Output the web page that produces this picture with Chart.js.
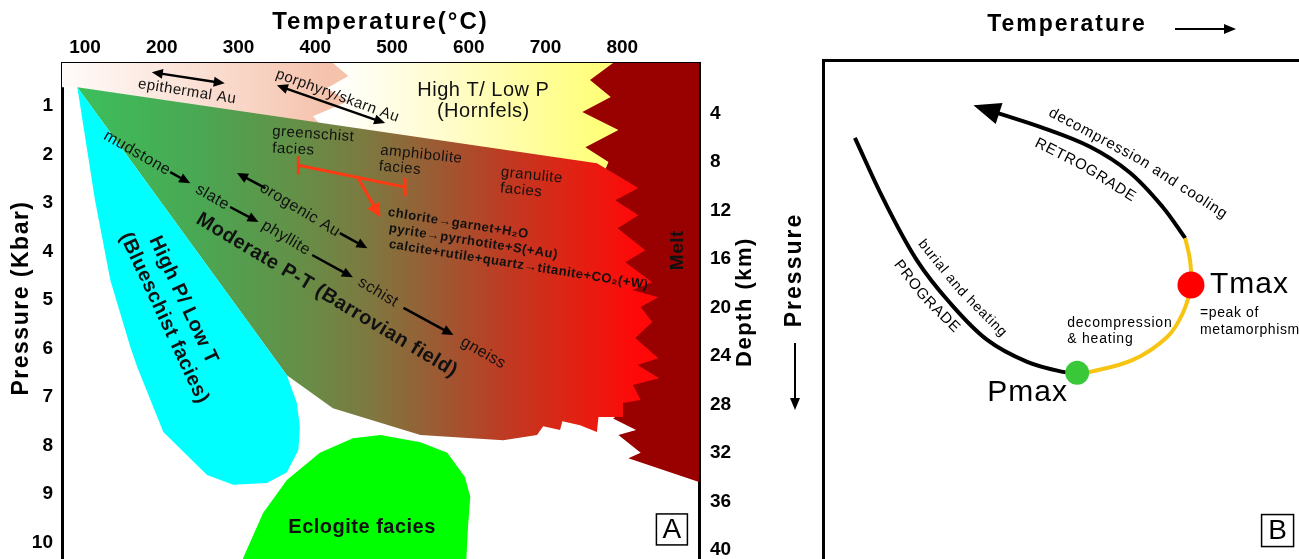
<!DOCTYPE html>
<html>
<head>
<meta charset="utf-8">
<script src="https://cdn.jsdelivr.net/npm/chart.js@4.4.1/dist/chart.umd.min.js"></script>
<style>
  html, body { margin: 0; padding: 0; background: #fff; overflow: hidden; }
  canvas { position: absolute; top: 0; }
  #chartA { left: 0; }
  #chartB { left: 770px; }
</style>
</head>
<body>
<canvas id="chartA" width="770" height="559"></canvas>
<canvas id="chartB" width="529" height="559"></canvas>
<script>
// ---- panel A: P-T fields, [temperature °C, pressure kbar] ----
const tempTicks = [100, 200, 300, 400, 500, 600, 700, 800]
const pressureTicks = [1, 2, 3, 4, 5, 6, 7, 8, 9, 10]
const depthTicks = [4, 8, 12, 16, 20, 24, 28, 32, 36, 40]

const meltField = [[719,0.11],[900,0.11],[900,8.75],[808,8.26],[824,8.15],[795,7.78],[818,7.68],[788,7.44],[801,7.30],[771,5.0],[732,2.22],[719,0.11]]
const hornfelsField = [[380,0.11],[788,0.11],[758,0.46],[785,0.81],[748,1.12],[795,1.49],[752,1.85],[782,2.15],[772,2.53],[485,1.91],[380,1.70],[380,0.11]]
const shallowField = [[70,0.11],[423,0.11],[443,0.38],[415,0.63],[443,0.90],[397,1.21],[419,1.60],[90,0.61],[70,0.61],[70,0.11]]
const barrovianField = [[90,0.61],[767,2.18],[821,2.69],[791,2.94],[821,3.25],[794,3.52],[830,3.97],[804,4.22],[839,4.63],[813,4.79],[847,4.94],[824,5.14],[839,5.45],[817,5.78],[847,6.20],[820,6.34],[848,6.61],[814,6.75],[824,7.06],[801,7.12],[801,7.41],[769,7.41],[767,7.72],[745,7.58],[722,7.50],[719,7.68],[697,7.60],[689,7.78],[645,7.89],[537,7.78],[423,7.23],[363,6.55],[90,0.61]]
const blueschistField = [[90,0.61],[363,6.55],[376,7.12],[380,7.62],[378,8.09],[363,8.55],[337,8.77],[293,8.81],[259,8.61],[202,7.72],[168,6.38],[159,5.97],[133,4.59],[113,2.94],[90,0.61]]
const eclogiteField = [[300,10.6],[306,10.32],[332,9.39],[363,8.71],[406,8.15],[449,7.85],[485,7.78],[537,7.93],[572,8.15],[595,8.65],[602,9.06],[599,9.68],[597,10.32],[596,10.6],[300,10.6]]

// ---- panel B: schematic P-T path, [temperature, pressure] in arbitrary units ----
const progradePath = [[6.7,15.6],[12.8,28.1],[19.7,40.1],[26.7,48.7],[34.5,56.1],[42.9,60.5],[50.4,62.5],[53.4,62.7]]
const heatingPath = [[53.4,62.7],[56.1,62.5],[65.1,60.1],[72.3,55.5],[75.6,50.7],[77.3,45.1],[77.1,40.1],[76.1,35.7]]
const retrogradePath = [[76.1,35.7],[71.4,29.5],[64.5,22.6],[56.1,17.4],[45.6,13.4],[36.6,10.6]]
const peakPoints = [[53.4,62.7],[77.3,45.1]] // Pmax, Tmax

const FONT = 'Arial, "Liberation Sans", Helvetica, sans-serif'
const depthOf = p => 4 * p - 0.6 // depth scale

const xy = pairs => pairs.map(([x, y]) => ({ x, y }))

// horizontal gradient given in temperature units
function tempGradient(stops) {
  return ctx => {
    const chart = ctx.chart
    if (!chart.chartArea) return 'rgba(0,0,0,0)'
    const xs = chart.scales.x
    const t0 = stops[0][0], t1 = stops[stops.length - 1][0]
    const g = chart.ctx.createLinearGradient(xs.getPixelForValue(t0), 0, xs.getPixelForValue(t1), 0)
    stops.forEach(([t, c]) => g.addColorStop((t - t0) / (t1 - t0), c))
    return g
  }
}

function field(label, pts, color, order) {
  return {
    label, data: xy(pts), showLine: true, fill: 'shape', backgroundColor: color,
    borderColor: 'rgba(0,0,0,0)', borderWidth: 0, pointRadius: 0, tension: 0, order
  }
}

function head(ctx, x, y, a, len, half) {
  const c = Math.cos(a), s = Math.sin(a)
  ctx.beginPath()
  ctx.moveTo(x, y)
  ctx.lineTo(x - len * c + half * s, y - len * s - half * c)
  ctx.lineTo(x - len * c - half * s, y - len * s + half * c)
  ctx.closePath()
  ctx.fill()
}

function arrow(ctx, x1, y1, x2, y2, both, color, width, len, half) {
  const a = Math.atan2(y2 - y1, x2 - x1), c = Math.cos(a), s = Math.sin(a)
  ctx.strokeStyle = color
  ctx.fillStyle = color
  ctx.lineWidth = width
  ctx.beginPath()
  ctx.moveTo(both ? x1 + c * len * 0.7 : x1, both ? y1 + s * len * 0.7 : y1)
  ctx.lineTo(x2 - c * len * 0.7, y2 - s * len * 0.7)
  ctx.stroke()
  head(ctx, x2, y2, a, len, half)
  if (both) head(ctx, x1, y1, a + Math.PI, len, half)
}

function label(ctx, text, x, y, rot, font, align, spacing, color) {
  ctx.save()
  ctx.translate(x, y)
  ctx.rotate(rot * Math.PI / 180)
  ctx.font = font
  ctx.letterSpacing = (spacing || 0) + 'px'
  ctx.textAlign = align || 'center'
  ctx.textBaseline = 'middle'
  ctx.fillStyle = color || '#111'
  ctx.fillText(text, 0, 0)
  ctx.restore()
}

function textOnPath(ctx, text, pts, font, spacing) {
  ctx.save()
  ctx.font = font
  ctx.letterSpacing = '0px'
  ctx.fillStyle = '#000'
  ctx.textAlign = 'center'
  ctx.textBaseline = 'middle'
  const segs = []
  let total = 0
  for (let i = 1; i < pts.length; i++) {
    const l = Math.hypot(pts[i][0] - pts[i - 1][0], pts[i][1] - pts[i - 1][1])
    segs.push(l)
    total += l
  }
  const chars = [...text]
  const widths = chars.map(c => ctx.measureText(c).width)
  const len = widths.reduce((a, b) => a + b, 0) + spacing * (chars.length - 1)
  let d = (total - len) / 2
  chars.forEach((ch, k) => {
    const mid = d + widths[k] / 2
    let s = 0, acc = 0
    while (s < segs.length - 1 && acc + segs[s] < mid) { acc += segs[s]; s++ }
    const f = (mid - acc) / segs[s]
    const [x0, y0] = pts[s], [x1, y1] = pts[s + 1]
    ctx.save()
    ctx.translate(x0 + (x1 - x0) * f, y0 + (y1 - y0) * f)
    ctx.rotate(Math.atan2(y1 - y0, x1 - x0))
    ctx.fillText(ch, 0, 0)
    ctx.restore()
    d += widths[k] + spacing
  })
  ctx.restore()
}

// annotations of panel A, in temperature / pressure units
const arrowsA = [
  [187, 0.30, 282, 0.53, true],
  [350, 0.57, 491, 1.35, true],
  [211, 2.36, 237, 2.59, false],
  [289, 3.08, 326, 3.39, false],
  [396, 4.07, 449, 4.53, false],
  [515, 5.16, 580, 5.72, false],
  [335, 2.69, 298, 2.38, false],
  [432, 3.62, 468, 3.93, false]
]
const notesA = [
  ['epithermal Au', 233, 0.70, 9, '15px', 'center'],
  ['porphyry/skarn Au', 429, 0.79, 20, '15px', 'center'],
  ['High T/ Low P', 619, 0.67, 0, '20px', 'center'],
  ['(Hornfels)', 619, 1.12, 0, '20px', 'center'],
  ['greenschist', 344, 1.52, 4, '15px', 'left'],
  ['facies', 344, 1.87, 3, '15px', 'left'],
  ['amphibolite', 485, 1.91, 6, '15px', 'left'],
  ['facies', 483, 2.24, 5, '15px', 'left'],
  ['granulite', 642, 2.36, 6, '15px', 'left'],
  ['facies', 641, 2.69, 6, '15px', 'left'],
  ['mudstone', 168, 1.97, 30, '16px', 'center'],
  ['slate', 266, 2.88, 30, '16px', 'center'],
  ['phyllite', 362, 3.72, 31, '16px', 'center'],
  ['schist', 482, 4.84, 31, '16px', 'center'],
  ['gneiss', 619, 6.09, 30, '16px', 'center'],
  ['orogenic Au', 380, 3.14, 31, '16px', 'center'],
  ['Moderate P-T (Barrovian field)', 415, 4.90, 31, 'bold 20px', 'center'],
  ['High P/ Low T', 228, 5.0, 65, 'bold 20px', 'center'],
  ['(Blueschist facies)', 203, 5.37, 65, 'bold 20px', 'center'],
  ['Eclogite facies', 461, 9.68, 0, 'bold 20px', 'center'],
  ['chlorite\u2192garnet+H\u2082O', 495, 3.19, 9, 'bold 13px', 'left'],
  ['pyrite\u2192pyrrhotite+S(+Au)', 496, 3.52, 9, 'bold 13px', 'left'],
  ['calcite+rutile+quartz\u2192titanite+CO\u2082(+W)', 496, 3.85, 9, 'bold 13px', 'left'],
  ['Melt', 872, 3.97, -90, 'bold 19px', 'center']
]

const panelA = {
  id: 'panelA',
  afterDatasetsDraw(chart) {
    const { ctx, scales: { x, y } } = chart
    const X = t => x.getPixelForValue(t), Y = p => y.getPixelForValue(p)
    ctx.save()
    arrowsA.forEach(([t1, p1, t2, p2, both]) => arrow(ctx, X(t1), Y(p1), X(t2), Y(p2), both, '#000', 2.5, 11, 5))

    // red bar between greenschist and amphibolite facies
    const red = '#ff3a12'
    ctx.strokeStyle = red
    ctx.fillStyle = red
    ctx.lineWidth = 3
    ctx.beginPath()
    ctx.moveTo(X(378), Y(2.22)); ctx.lineTo(X(517), Y(2.67))
    ctx.moveTo(X(378), Y(2.03)); ctx.lineTo(X(378), Y(2.41))
    ctx.moveTo(X(517), Y(2.48)); ctx.lineTo(X(517), Y(2.86))
    ctx.stroke()
    arrow(ctx, X(455), Y(2.46), X(485), Y(3.29), false, red, 3, 14, 7)

    notesA.forEach(([text, t, p, rot, f, align]) => label(ctx, text, X(t), Y(p), rot, f + ' ' + FONT, align, 0.5))

    // box letter
    const bx = X(864.7), by = Y(9.73)
    ctx.lineWidth = 1.5
    ctx.strokeStyle = '#000'
    ctx.strokeRect(bx - 15.5, by - 15.5, 31, 31)
    label(ctx, 'A', bx, by + 1, 0, '28px ' + FONT, 'center', 0, '#000')

    // axis titles
    const a = chart.chartArea
    label(ctx, 'Temperature(\u00b0C)', (a.left + a.right) / 2, 22, 0, 'bold 24px ' + FONT, 'center', 2, '#000')
    label(ctx, 'Pressure (Kbar)', 22, 298, -90, 'bold 23px ' + FONT, 'center', 1.5, '#000')
    label(ctx, 'Depth (km)', a.right + 46, 302, -90, 'bold 22px ' + FONT, 'center', 1.5, '#000')
    ctx.restore()
  }
}

const tickFont = { family: FONT, size: 19, weight: 'bold' }
const setTicks = vals => s => { s.ticks = vals.map(v => ({ value: v })) }
// fixed box sizes, no overhang padding, so the plot area fills the canvas edge
const fixBox = (w, h) => s => {
  if (w !== null) s.width = w
  if (h !== null) s.height = h
  s.paddingTop = 0; s.paddingBottom = 0; s.paddingLeft = 0; s.paddingRight = 0
}

new Chart(document.getElementById('chartA'), {
  type: 'scatter',
  data: {
    datasets: [
      field('Melt', meltField, '#990000', 6),
      field('High T/ Low P', hornfelsField, tempGradient([[420, '#ffffff'], [560, '#fffcd0'], [770, '#ffff7a']]), 5),
      field('shallow', shallowField, tempGradient([[70, '#fffbfa'], [230, '#fbe3d8'], [420, '#f5c2ac']]), 4),
      field('Moderate P-T', barrovianField, tempGradient([[90, '#3cbf5c'], [250, '#4aa753'], [380, '#658f47'], [470, '#7e7840'], [560, '#9c5a33'], [650, '#bf3a22'], [730, '#de2414'], [820, '#ff0808']]), 3),
      field('High P/ Low T', blueschistField, '#00ffff', 2),
      field('Eclogite', eclogiteField, '#00ff00', 1)
    ]
  },
  options: {
    responsive: false,
    animation: false,
    events: [],
    layout: { padding: 0, autoPadding: false },
    plugins: { legend: { display: false }, tooltip: { enabled: false } },
    scales: {
      x: {
        type: 'linear', position: 'top', min: 70, max: 900,
        afterBuildTicks: setTicks(tempTicks),
        afterFit: fixBox(null, 63),
        grid: { display: false, drawTicks: false },
        border: { color: '#000', width: 3 },
        ticks: { color: '#000', font: tickFont, padding: 4, autoSkip: false, maxRotation: 0 }
      },
      y: {
        type: 'linear', position: 'left', reverse: true, min: 0.11, max: 10.34,
        afterBuildTicks: setTicks(pressureTicks),
        afterFit: fixBox(62, null),
        grid: { display: false, drawTicks: false },
        border: { color: '#000', width: 3 },
        ticks: { color: '#000', font: tickFont, padding: 9, autoSkip: false }
      },
      y2: {
        type: 'linear', position: 'right', reverse: true, min: depthOf(0.11), max: depthOf(10.34),
        afterBuildTicks: setTicks(depthTicks),
        afterFit: fixBox(71, null),
        grid: { display: false, drawTicks: false },
        border: { color: '#000', width: 3 },
        ticks: { color: '#000', font: tickFont, padding: 11, autoSkip: false }
      }
    }
  },
  plugins: [panelA]
})

// ---- panel B ----
const pathNotes = [
  ['decompression and cooling', [[47.7, 10.4], [66.6, 20.0], [84.5, 31.1]], 15, 0.9],
  ['RETROGRADE', [[45.0, 16.6], [55.0, 21.4], [65.1, 27.5]], 15, 0.8],
  ['burial and heating', [[20.8, 36.7], [28.8, 46.1], [37.8, 54.7]], 14, 0.8],
  ['PROGRADE', [[15.5, 40.5], [21.4, 47.7], [28.2, 54.1]], 15, 0.8]
]
const notesB = [
  ['decompression', 51.3, 52.7, '14px', 0.8],
  ['& heating', 51.3, 55.9, '14px', 0.8],
  ['Tmax', 81.3, 45.1, '30px', 1],
  ['=peak of', 79.2, 50.7, '14px', 0.6],
  ['metamorphism', 79.2, 54.1, '14px', 0.6],
  ['Pmax', 34.5, 66.6, '30px', 1]
]

const panelB = {
  id: 'panelB',
  afterDatasetsDraw(chart) {
    const { ctx, scales: { x, y } } = chart
    const P = ([u, v]) => [x.getPixelForValue(u), y.getPixelForValue(v)]
    ctx.save()
    // arrow head at the end of the retrograde path
    const pts = chart.getDatasetMeta(2).data
    const e = pts[pts.length - 1], f = pts[pts.length - 2]
    const ang = Math.atan2(e.y - f.y, e.x - f.x)
    ctx.fillStyle = '#000'
    head(ctx, e.x + 25 * Math.cos(ang), e.y + 25 * Math.sin(ang), ang, 27, 11)

    pathNotes.forEach(([text, path, size, sp]) => textOnPath(ctx, text, path.map(P), size + 'px ' + FONT, sp))
    notesB.forEach(([text, u, v, f, sp]) => {
      const [px, py] = P([u, v])
      label(ctx, text, px, py, 0, f + ' ' + FONT, 'left', sp, '#000')
    })

    const [bx, by] = P([95.5, 94.3])
    ctx.lineWidth = 1.5
    ctx.strokeStyle = '#000'
    ctx.strokeRect(bx - 16, by - 16, 32, 32)
    label(ctx, 'B', bx, by + 1, 0, '28px ' + FONT, 'center', 0, '#000')

    // axis titles with arrows
    const a = chart.chartArea
    label(ctx, 'Temperature', a.left + 244, 25, 0, 'bold 23px ' + FONT, 'center', 2, '#000')
    arrow(ctx, a.left + 352, 29, a.left + 413, 29, false, '#000', 2, 12, 5)
    label(ctx, 'Pressure', a.left - 28, a.top + 210, -90, 'bold 23px ' + FONT, 'center', 2, '#000')
    arrow(ctx, a.left - 28, a.top + 283, a.left - 28, a.top + 350, false, '#000', 2, 12, 5)
    ctx.restore()
  }
}

const pathLine = (pts, color) => ({
  data: xy(pts), showLine: true, borderColor: color, borderWidth: 4,
  pointRadius: 0, tension: 0.35, fill: false, order: 1
})

new Chart(document.getElementById('chartB'), {
  type: 'scatter',
  data: {
    datasets: [
      pathLine(progradePath, '#000'),
      pathLine(heatingPath, '#f7c412'),
      pathLine(retrogradePath, '#000'),
      {
        data: xy(peakPoints), showLine: false, order: 0,
        pointRadius: [12, 13.5], pointBorderWidth: 0,
        pointBackgroundColor: ['#38c838', '#ff0000'], pointBorderColor: 'rgba(0,0,0,0)'
      }
    ]
  },
  options: {
    responsive: false,
    animation: false,
    events: [],
    layout: { padding: 0, autoPadding: false },
    plugins: { legend: { display: false }, tooltip: { enabled: false } },
    scales: {
      x: {
        type: 'linear', position: 'top', min: 0, max: 100,
        afterFit: fixBox(null, 60),
        ticks: { display: false }, grid: { display: false, drawTicks: false },
        border: { color: '#000', width: 3 }
      },
      y: {
        type: 'linear', position: 'left', min: 0, max: 100, reverse: true,
        afterFit: fixBox(53, null),
        ticks: { display: false }, grid: { display: false, drawTicks: false },
        border: { color: '#000', width: 3 }
      }
    }
  },
  plugins: [panelB]
})
</script>
</body>
</html>
